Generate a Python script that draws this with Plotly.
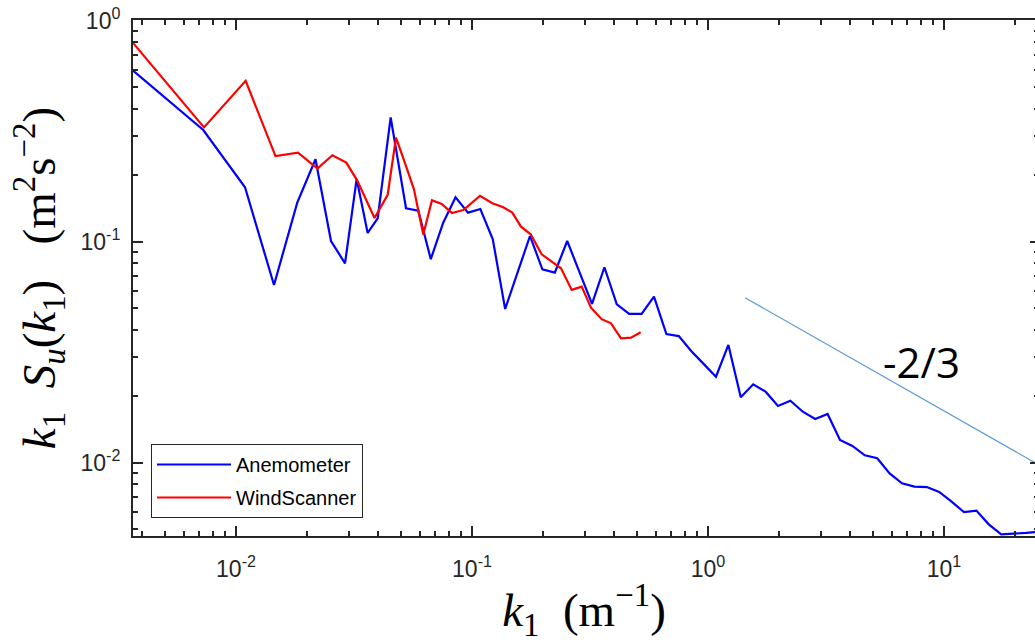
import numpy as np
import plotly.graph_objects as go

# ---------------- data ----------------
k_anemometer = [0.003662, 0.007266, 0.01092, 0.01449, 0.01818, 0.02172, 0.02527, 0.02897,
                0.03246, 0.03614, 0.03985, 0.04523, 0.05254, 0.05923, 0.06689, 0.07551,
                0.08519, 0.09618, 0.1085, 0.1225, 0.1382, 0.1560, 0.1761, 0.1987,
                0.2243, 0.2532, 0.2857, 0.3225, 0.3640, 0.4108, 0.4636, 0.5232,
                0.5904, 0.6664, 0.7521, 0.8488, 0.9580, 1.081, 1.220, 1.377,
                1.554, 1.754, 1.980, 2.234, 2.522, 2.846, 3.212, 3.625,
                4.091, 4.617, 5.212, 5.882, 6.638, 7.492, 8.456, 9.543,
                10.77, 12.16, 13.72, 15.48, 17.48, 19.72, 22.26, 25.12]
s_anemometer = [0.594, 0.320, 0.1762, 0.0637, 0.1501, 0.2360, 0.1007, 0.0798,
                0.1922, 0.1095, 0.1276, 0.3648, 0.1416, 0.1381, 0.0833, 0.1219,
                0.1588, 0.1353, 0.1406, 0.1025, 0.0496, 0.0725, 0.1061, 0.0750,
                0.0724, 0.1007, 0.0725, 0.0523, 0.0766, 0.0520, 0.0471, 0.0471,
                0.0564, 0.0382, 0.0374, 0.0320, 0.0280, 0.0245, 0.0341, 0.01977,
                0.02263, 0.02096, 0.01806, 0.01908, 0.01701, 0.01576, 0.01661, 0.01267,
                0.01190, 0.01080, 0.01047, 0.00895, 0.00807, 0.00779, 0.00776, 0.00737,
                0.00666, 0.00597, 0.00607, 0.00526, 0.00474, 0.00476, 0.00481, 0.00486]

k_windscanner = [0.003662, 0.007317, 0.01099, 0.01470, 0.01831, 0.02215, 0.02560, 0.02933,
                 0.03257, 0.03863, 0.04393, 0.04764, 0.05201, 0.05677, 0.06217, 0.06766,
                 0.07439, 0.08226, 0.09187, 0.1081, 0.1219, 0.1357, 0.1482, 0.1613,
                 0.1773, 0.1973, 0.2177, 0.2383, 0.2646, 0.2916, 0.3193, 0.3544,
                 0.3882, 0.4279, 0.4718, 0.5186]
s_windscanner = [0.793, 0.329, 0.534, 0.244, 0.253, 0.214, 0.246, 0.228,
                 0.190, 0.128, 0.163, 0.2955, 0.2264, 0.1726, 0.1078, 0.1539,
                 0.1482, 0.1349, 0.1391, 0.1613, 0.1492, 0.1431, 0.1353, 0.1169,
                 0.1080, 0.0877, 0.0812, 0.0758, 0.0605, 0.0626, 0.0503, 0.0446,
                 0.0427, 0.0365, 0.0368, 0.0389]

k_slope = [1.435, 24.3]
s_slope = [0.0558, 0.0100]
slope_label = "-2/3"
slope_label_pos = (8.0, 0.0288)

x_tick_vals = [0.01, 0.1, 1, 10]
x_tick_text = ["10<sup>-2</sup>", "10<sup>-1</sup>", "10<sup>0</sup>", "10<sup>1</sup>"]
y_tick_vals = [0.01, 0.1, 1]
y_tick_text = ["10<sup>-2</sup>", "10<sup>-1</sup>", "10<sup>0</sup>"]

x_range = [-2.4364, 1.3856]
y_range = [-2.3317, 0.003]

# ---------------- styling ----------------
AX = "#262626"
SANS = "Liberation Sans, Arial, Helvetica, sans-serif"
TICKFONT = dict(family=SANS, size=23, color=AX)
TITLEFONT = dict(family="Liberation Serif, Times New Roman, serif", size=47, color="black")

minor_x = [m * 10.0 ** e for e in range(-3, 2) for m in range(2, 10)]
minor_y = [m * 10.0 ** e for e in range(-3, 0) for m in range(2, 10)]

fig = go.Figure()
fig.add_trace(go.Scatter(x=k_anemometer, y=s_anemometer, mode="lines", name="Anemometer",
                         legendgroup="a", line=dict(color="#0000FF", width=2.2)))
fig.add_trace(go.Scatter(x=k_windscanner, y=s_windscanner, mode="lines", name="WindScanner",
                         legendgroup="b", line=dict(color="#FF0000", width=2.2)))
fig.add_trace(go.Scatter(x=k_slope, y=s_slope, mode="lines", showlegend=False,
                         line=dict(color="#5A9BD5", width=1.2), yaxis="y2"))

fig.add_annotation(x=np.log10(slope_label_pos[0]), y=np.log10(slope_label_pos[1]),
                   text=slope_label, showarrow=False, xanchor="center", yanchor="middle",
                   font=dict(family="Open Sans, Lato, sans-serif", size=42, color="black"))

fig.update_layout(
    width=1035, height=643,
    margin=dict(l=133, r=0, t=20, b=107),
    paper_bgcolor="white", plot_bgcolor="white",
    showlegend=True,
    legend=dict(x=18 / 902, y=(536 - 444) / 516, xanchor="left", yanchor="top",
                bgcolor="white", bordercolor=AX, borderwidth=1,
                font=dict(family=SANS, size=20, color="black"),
                itemwidth=74, tracegroupgap=4),
    xaxis=dict(type="log", range=x_range, tickmode="array", tickvals=x_tick_vals,
               ticktext=x_tick_text, ticks="inside", ticklen=10, tickwidth=2, tickcolor=AX,
               showline=True, linewidth=2, linecolor=AX, mirror="ticks",
               showgrid=False, zeroline=False, tickfont=TICKFONT, ticklabelstandoff=11,
               minor=dict(tickmode="array", tickvals=minor_x, ticks="inside", ticklen=5,
                          tickwidth=2, tickcolor=AX, showgrid=False),
               title=dict(text="<i>k</i><sub>1</sub>&nbsp;&nbsp;(m<sup>\u22121</sup>)",
                          font=TITLEFONT, standoff=15)),
    yaxis=dict(type="log", range=y_range, tickmode="array", tickvals=y_tick_vals,
               ticktext=y_tick_text, ticks="inside", ticklen=10, tickwidth=2, tickcolor=AX,
               showline=True, linewidth=2, linecolor=AX, mirror=False,
               showgrid=False, zeroline=False, tickfont=TICKFONT, ticklabelstandoff=6,
               minor=dict(tickmode="array", tickvals=minor_y, ticks="inside", ticklen=5,
                          tickwidth=2, tickcolor=AX, showgrid=False),
               title=dict(text="<i>k</i><sub>1</sub>&nbsp;&nbsp;<i>S<sub>u</sub></i>(<i>k</i><sub>1</sub>)"
                               "&nbsp;&nbsp;&nbsp;(m<sup>2</sup>s<sup>\u22122</sup>)",
                          font=TITLEFONT, standoff=10)),
    yaxis2=dict(type="log", range=y_range, overlaying="y", side="right", anchor="x",
                tickmode="array", tickvals=y_tick_vals, ticks="inside", ticklen=5, tickwidth=2,
                tickcolor=AX, showticklabels=False, showline=False, showgrid=False, zeroline=False,
                minor=dict(tickmode="array", tickvals=minor_y, ticks="inside", ticklen=1,
                           tickwidth=2, tickcolor=AX, showgrid=False)),
)

fig.write_html("out.html")
